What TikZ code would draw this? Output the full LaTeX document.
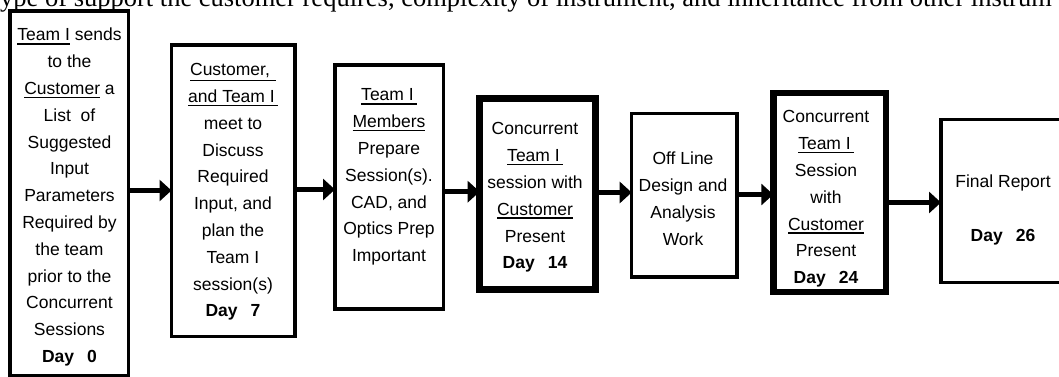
\documentclass[tikz,border=0pt]{standalone}
\usepackage{fontspec}
\setmainfont{Liberation Sans}
\newfontfamily\seriffont{Liberation Serif}
\usetikzlibrary{arrows.meta}
\newcommand\myul[1]{\leavevmode\vtop{\hbox{#1}\kern1.8pt\hrule height 1.6pt}}
\newcommand\dayb[1]{\textbf{Day\hspace{13pt}#1}}
\tikzset{
  box/.style={draw, line width=3.5pt, inner sep=0pt, outer sep=0pt},
  thickbox/.style={draw, line width=6.5pt, inner sep=0pt, outer sep=0pt},
  btext/.style={inner sep=0pt, font=\fontsize{17.5}{26.8}\selectfont},
  arr/.style={line width=4.5pt, -{Triangle[length=12pt,width=21pt]}},
}
\begin{document}
\begin{tikzpicture}[x=1pt,y=-1pt]
\useasboundingbox (0,0) rectangle (1059,377);
\fill[white] (0,0) rectangle (1059,377);
\clip (0,0) rectangle (1059,377);
\node[anchor=base east, inner sep=0pt, font=\seriffont\fontsize{26.5}{30}\selectfont] (top) at (1052,6.5) {type of support the customer requires, complexity of instrument, and inheritance from other instrum};
% boxes
\node[box, minimum width=118.5pt, minimum height=364.5pt] (b1) at (69.25,193.25) {};
\node[box, minimum width=123.5pt, minimum height=291.5pt] (b2) at (233.25,190.75) {};
\node[box, minimum width=108.3pt, minimum height=244pt] (b3) at (389.15,187) {};
\node[thickbox, minimum width=116pt, minimum height=191.2pt] (b4) at (537.7,193.9) {};
\node[box, minimum width=105.3pt, minimum height=163.3pt] (b5) at (684.35,195.35) {};
\node[thickbox, line width=6.7pt, minimum width=112.7pt, minimum height=199pt] (b6) at (829.65,192.5) {};
\node[box, minimum width=129pt, minimum height=163pt] (b7) at (1005.5,200.8) {};
% texts
\node[btext] (t1) at (69.5,196.4) {\begin{tabular}{@{}c@{}}\myul{Team I} sends\\ to the\\ \myul{Customer} a\\ List\ \ of\\ Suggested\\ Input\\ Parameters\\ Required by\\ the team\\ prior to the\\ Concurrent\\ Sessions\\ \dayb{0}\end{tabular}};
\node[btext] (t2) at (233,191) {\begin{tabular}{@{}c@{}}\myul{Customer,\kern6pt}\\ \myul{and Team I\kern3pt}\\ meet to\\ Discuss\\ Required\\ Input, and\\ plan the\\ Team I\\ session(s)\\ \dayb{7}\end{tabular}};
\node[btext] (t3) at (389,176) {\begin{tabular}{@{}c@{}}\myul{Team I\kern3pt}\\ \myul{Members}\\ Prepare\\ Session(s).\\ CAD, and\\ Optics Prep\\ Important\end{tabular}};
\node[btext] (t4) at (535,196.6) {\begin{tabular}{@{}c@{}}Concurrent\\ \myul{Team I\kern3pt}\\ session\ with\\ \myul{Customer}\\ Present\\ \dayb{14}\end{tabular}};
\node[btext] (t5) at (683,199.8) {\begin{tabular}{@{}c@{}}Off Line\\ Design and\\ Analysis\\ Work\end{tabular}};
\node[btext] (t6) at (826,198) {\begin{tabular}{@{}c@{}}Concurrent\\ \myul{Team I\kern3pt}\\ Session\\ with\\ \myul{Customer}\\ Present\\ \dayb{24}\end{tabular}};
\node[btext] (t7) at (1003,209.4) {\begin{tabular}{@{}c@{}}Final\ Report\\ \\ \dayb{26}\end{tabular}};
% arrows
\draw[arr] (b1.east |- 0,190.5) -- (b2.west |- 0,190.5);
\draw[arr] (b2.east |- 0,189.5) -- (b3.west |- 0,189.5);
\draw[arr] (b3.east |- 0,191.7) -- (b4.west |- 0,191.7);
\draw[arr] (b4.east |- 0,192.5) -- (b5.west |- 0,192.5);
\draw[arr] (b5.east |- 0,194.5) -- (b6.west |- 0,194.5);
\draw[arr] (b6.east |- 0,202.5) -- (b7.west |- 0,202.5);
\end{tikzpicture}
\end{document}
